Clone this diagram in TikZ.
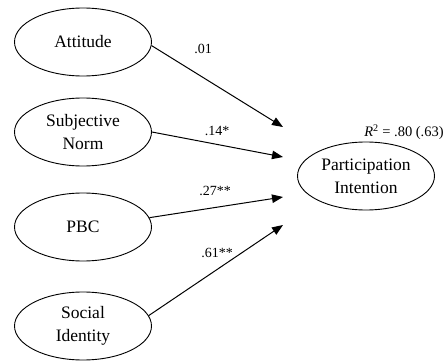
\documentclass[tikz,border=0pt]{standalone}
\usepackage{fontspec}
\setmainfont{Liberation Serif}
\usetikzlibrary{arrows.meta,shapes.geometric}
\tikzset{
  construct/.style={ellipse, draw, line width=0.9pt, minimum width=137pt, minimum height=68pt,
    inner sep=0pt, align=center, font=\fontsize{17.5}{23}\selectfont},
  effect/.style={-{Triangle[length=11pt,width=8.5pt]}, line width=1pt},
  coef/.style={font=\fontsize{14}{16}\selectfont}
}
\begin{document}
\begin{tikzpicture}[x=1pt,y=-1pt]
            \useasboundingbox (0,0) rectangle (445,361);
            \node[construct] (att) at (83,42) {Attitude};
            \node[construct] (sn) at (83,132) {Subjective\\Norm};
            \node[construct] (pbc) at (83,227) {PBC};
            \node[construct] (si) at (83,326) {Social\\Identity};
            \node[construct] (pi) at (366,176) {Participation\\Intention};
            \node[anchor=center, font=\fontsize{14.5}{16}\selectfont] (r2) at (404,132) {\textit{R}\textsuperscript{2} = .80 (.63)};
            \coordinate (t1) at (283,127);
            \coordinate (t2) at (283,157);
            \coordinate (t3) at (283,197);
            \coordinate (t4) at (283,225);
            \draw[effect] (att.-3) -- (t1);
            \draw[effect] (sn.east) -- (t2);
            \draw[effect] (pbc.8) -- (t3);
            \draw[effect] (si.9) -- (t4);
            \node[coef] (c1) at (203,49) {.01};
            \node[coef] (c2) at (217,131) {.14*};
            \node[coef] (c3) at (215,191) {.27**};
            \node[coef] (c4) at (217,253) {.61**};
        \end{tikzpicture}
\end{document}
